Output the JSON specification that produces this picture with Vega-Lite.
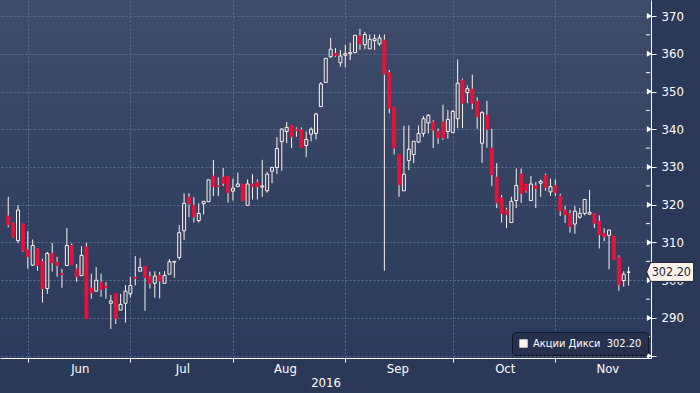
{
"$schema": "https://vega.github.io/schema/vega-lite/v6.json",
"width": 651, "height": 358,
"autosize": {"type": "none"},
"padding": {"left": 0, "top": 0, "right": 49, "bottom": 35},
"background": "#2b3959",
"config": {
 "view": {"stroke": null, "fill": {"gradient": "linear", "x1": 0, "y1": 0, "x2": 0, "y2": 1, "stops": [{"offset": 0, "color": "#3e4b69"}, {"offset": 1, "color": "#2b3a5c"}]}},
 "font": "Liberation Sans Narrow, DejaVu Sans Condensed, sans-serif",
 "axisX": {"labelOffset": 52, "labelFlush": false, "labelOverlap": false, "labelAlign": "center",
   "grid": true, "gridColor": "#56708f", "gridDash": [2, 2], "gridWidth": 1,
   "domainColor": "#ffffff", "tickColor": "#ffffff", "tickSize": 4,
   "labelColor": "#ffffff", "labelFontSize": 13, "labelPadding": 0,
   "titleColor": "#ffffff", "titleFontSize": 13, "titleFontWeight": "normal", "titlePadding": 1},
 "axisY": {"labelOverlap": false, "grid": true, "gridColor": "#56708f", "gridDash": [2, 2],
   "domainColor": "#ffffff", "tickColor": "#ffffff", "tickSize": 5, "labelPadding": 5,
   "labelColor": "#ffffff", "labelFontSize": 13, "labelFlush": false, "labelBaseline": "middle"},
 "legend": {"orient": "bottom-right", "offset": 3, "fillColor": "#25314d", "strokeColor": "#10172a", "cornerRadius": 4, "padding": 6, "symbolType": "square", "symbolSize": 70, "symbolStrokeWidth": 0, "labelColor": "#ffffff", "labelFontSize": 11, "labelFont": "Liberation Sans Narrow, DejaVu Sans Condensed, sans-serif"}
},
"datasets": {
 "ohlc": [
{"i":1,"o":317.0,"h":322.1,"l":314.0,"c":314.7},
{"i":2,"o":315.1,"h":315.3,"l":311.3,"c":311.5},
{"i":3,"o":310.5,"h":319.9,"l":309.8,"c":318.6},
{"i":4,"o":314.9,"h":315.0,"l":307.5,"c":307.8},
{"i":5,"o":308.0,"h":313.0,"l":303.1,"c":306.2},
{"i":6,"o":304.0,"h":310.8,"l":303.8,"c":309.2},
{"i":7,"o":308.3,"h":308.5,"l":302.5,"c":303.9},
{"i":8,"o":305.0,"h":305.7,"l":294.1,"c":297.8},
{"i":9,"o":297.8,"h":307.5,"l":296.4,"c":307.1},
{"i":10,"o":307.1,"h":309.9,"l":302.3,"c":304.7},
{"i":11,"o":304.8,"h":306.2,"l":300.9,"c":303.9},
{"i":12,"o":301.8,"h":303.0,"l":298.0,"c":301.5},
{"i":13,"o":303.9,"h":313.8,"l":303.8,"c":309.2},
{"i":14,"o":309.2,"h":309.8,"l":304.0,"c":304.1},
{"i":15,"o":303.0,"h":304.3,"l":299.6,"c":300.9},
{"i":16,"o":301.2,"h":309.0,"l":301.2,"c":306.6},
{"i":17,"o":308.8,"h":309.9,"l":289.8,"c":289.8},
{"i":18,"o":297.9,"h":301.7,"l":295.1,"c":296.7},
{"i":19,"o":297.1,"h":303.5,"l":297.0,"c":300.0},
{"i":20,"o":299.5,"h":301.7,"l":295.6,"c":297.6},
{"i":21,"o":298.4,"h":299.5,"l":295.1,"c":298.1},
{"i":22,"o":293.9,"h":296.1,"l":287.1,"c":294.5},
{"i":23,"o":296.5,"h":296.5,"l":288.4,"c":289.9},
{"i":24,"o":292.1,"h":296.4,"l":292.1,"c":293.6},
{"i":25,"o":293.9,"h":298.7,"l":288.8,"c":297.1},
{"i":26,"o":296.4,"h":300.9,"l":295.5,"c":298.6},
{"i":27,"o":300.8,"h":306.4,"l":298.6,"c":300.5},
{"i":28,"o":302.4,"h":305.9,"l":302.4,"c":303.4},
{"i":29,"o":303.7,"h":303.7,"l":291.9,"c":300.7},
{"i":30,"o":300.9,"h":302.3,"l":297.8,"c":299.2},
{"i":31,"o":299.2,"h":302.4,"l":295.4,"c":301.1},
{"i":32,"o":301.3,"h":302.2,"l":295.2,"c":299.8},
{"i":33,"o":299.2,"h":302.4,"l":299.2,"c":301.3},
{"i":34,"o":301.6,"h":305.6,"l":301.6,"c":304.9},
{"i":35,"o":304.8,"h":305.0,"l":300.7,"c":305.0},
{"i":36,"o":306.0,"h":314.6,"l":305.4,"c":312.6},
{"i":37,"o":313.1,"h":323.0,"l":310.7,"c":320.4},
{"i":38,"o":322.0,"h":323.0,"l":316.7,"c":320.2},
{"i":39,"o":319.85,"h":322.0,"l":315.3,"c":316.8},
{"i":40,"o":315.8,"h":320.4,"l":315.3,"c":317.7},
{"i":41,"o":320.3,"h":320.9,"l":317.4,"c":320.9},
{"i":42,"o":320.8,"h":326.6,"l":320.8,"c":326.6},
{"i":43,"o":327.6,"h":331.9,"l":322.3,"c":324.8},
{"i":44,"o":325.0,"h":327.3,"l":322.3,"c":324.8},
{"i":45,"o":327.3,"h":329.7,"l":325.0,"c":325.7},
{"i":46,"o":327.6,"h":327.6,"l":320.6,"c":323.2},
{"i":47,"o":323.6,"h":326.9,"l":321.1,"c":324.4},
{"i":48,"o":324.8,"h":328.5,"l":324.8,"c":325.5},
{"i":49,"o":325.5,"h":325.5,"l":321.1,"c":321.1},
{"i":50,"o":319.85,"h":326.7,"l":319.85,"c":325.5},
{"i":51,"o":325.5,"h":328.1,"l":321.4,"c":324.8},
{"i":52,"o":326.0,"h":326.7,"l":321.4,"c":324.8},
{"i":53,"o":324.7,"h":331.9,"l":322.1,"c":325.0},
{"i":54,"o":323.7,"h":328.7,"l":323.2,"c":328.1},
{"i":55,"o":328.9,"h":329.9,"l":325.7,"c":329.9},
{"i":56,"o":329.9,"h":337.9,"l":328.1,"c":334.9},
{"i":57,"o":336.7,"h":340.3,"l":329.0,"c":340.0},
{"i":58,"o":339.4,"h":341.9,"l":336.3,"c":340.5},
{"i":59,"o":341.0,"h":341.0,"l":335.0,"c":338.0},
{"i":60,"o":340.0,"h":340.5,"l":338.0,"c":339.6},
{"i":61,"o":339.8,"h":340.5,"l":335.2,"c":335.2},
{"i":62,"o":335.7,"h":339.4,"l":332.6,"c":337.3},
{"i":63,"o":338.7,"h":340.5,"l":336.8,"c":340.0},
{"i":64,"o":338.9,"h":344.4,"l":337.3,"c":344.0},
{"i":65,"o":346.0,"h":352.5,"l":346.0,"c":352.0},
{"i":66,"o":352.4,"h":358.8,"l":352.4,"c":358.8},
{"i":67,"o":359.2,"h":364.2,"l":358.9,"c":361.2},
{"i":68,"o":360.1,"h":361.5,"l":359.2,"c":359.6},
{"i":69,"o":357.6,"h":361.0,"l":356.6,"c":359.4},
{"i":70,"o":359.6,"h":362.4,"l":356.4,"c":360.0},
{"i":71,"o":360.0,"h":362.9,"l":358.3,"c":360.3},
{"i":72,"o":360.3,"h":364.9,"l":360.3,"c":364.9},
{"i":73,"o":364.7,"h":366.6,"l":361.0,"c":362.6},
{"i":74,"o":362.4,"h":365.8,"l":361.2,"c":365.1},
{"i":75,"o":361.3,"h":365.1,"l":361.3,"c":363.8},
{"i":76,"o":363.5,"h":365.1,"l":361.0,"c":364.0},
{"i":77,"o":362.6,"h":365.1,"l":362.1,"c":364.2},
{"i":78,"o":363.6,"h":365.1,"l":302.5,"c":354.6},
{"i":79,"o":355.0,"h":355.7,"l":344.2,"c":345.6},
{"i":80,"o":345.8,"h":345.8,"l":333.3,"c":335.0},
{"i":81,"o":333.3,"h":333.4,"l":322.1,"c":325.3},
{"i":82,"o":323.7,"h":340.9,"l":323.7,"c":328.1},
{"i":83,"o":331.7,"h":341.0,"l":329.2,"c":334.7},
{"i":84,"o":333.3,"h":336.8,"l":331.0,"c":336.8},
{"i":85,"o":336.6,"h":341.0,"l":336.4,"c":338.9},
{"i":86,"o":338.9,"h":343.5,"l":338.0,"c":342.8},
{"i":87,"o":341.7,"h":344.0,"l":338.9,"c":343.7},
{"i":88,"o":341.9,"h":342.4,"l":335.0,"c":339.8},
{"i":89,"o":339.4,"h":340.2,"l":336.1,"c":337.7},
{"i":90,"o":341.9,"h":346.5,"l":337.2,"c":337.7},
{"i":91,"o":339.4,"h":345.1,"l":337.5,"c":342.6},
{"i":92,"o":339.1,"h":345.1,"l":339.1,"c":344.7},
{"i":93,"o":342.8,"h":358.5,"l":340.3,"c":352.2},
{"i":94,"o":353.0,"h":353.4,"l":340.3,"c":346.9},
{"i":95,"o":349.7,"h":351.6,"l":346.9,"c":350.75},
{"i":96,"o":350.6,"h":354.5,"l":345.3,"c":346.9},
{"i":97,"o":347.4,"h":348.5,"l":340.1,"c":343.3},
{"i":98,"o":336.3,"h":344.8,"l":331.1,"c":344.4},
{"i":99,"o":343.7,"h":347.5,"l":335.1,"c":340.0},
{"i":100,"o":335.0,"h":340.1,"l":325.0,"c":328.0},
{"i":101,"o":327.3,"h":331.0,"l":319.1,"c":320.5},
{"i":102,"o":321.8,"h":322.6,"l":315.3,"c":317.7},
{"i":103,"o":318.6,"h":319.2,"l":313.8,"c":317.4},
{"i":104,"o":315.3,"h":322.1,"l":315.3,"c":320.9},
{"i":105,"o":321.1,"h":329.6,"l":319.1,"c":325.1},
{"i":106,"o":328.1,"h":329.6,"l":320.5,"c":323.0},
{"i":107,"o":325.5,"h":325.5,"l":323.2,"c":323.7},
{"i":108,"o":321.1,"h":327.6,"l":321.1,"c":325.5},
{"i":109,"o":325.0,"h":326.0,"l":319.1,"c":324.3},
{"i":110,"o":325.7,"h":326.7,"l":322.1,"c":326.2},
{"i":111,"o":327.8,"h":328.3,"l":323.7,"c":324.6},
{"i":112,"o":323.4,"h":326.9,"l":322.3,"c":324.8},
{"i":113,"o":325.0,"h":326.7,"l":322.3,"c":323.2},
{"i":114,"o":322.3,"h":322.9,"l":317.0,"c":318.4},
{"i":115,"o":318.6,"h":319.7,"l":315.2,"c":317.4},
{"i":116,"o":317.6,"h":318.6,"l":312.6,"c":314.2},
{"i":117,"o":314.9,"h":319.7,"l":312.3,"c":318.3},
{"i":118,"o":316.7,"h":319.1,"l":316.3,"c":317.7},
{"i":119,"o":317.7,"h":321.4,"l":317.2,"c":321.4},
{"i":120,"o":317.5,"h":323.9,"l":317.5,"c":318.0},
{"i":121,"o":317.7,"h":317.7,"l":313.8,"c":315.1},
{"i":122,"o":315.6,"h":317.2,"l":308.4,"c":312.1},
{"i":123,"o":312.4,"h":313.8,"l":310.3,"c":311.5},
{"i":124,"o":311.9,"h":313.3,"l":302.9,"c":313.3},
{"i":125,"o":311.7,"h":311.7,"l":305.5,"c":305.5},
{"i":126,"o":306.1,"h":306.6,"l":297.2,"c":298.8},
{"i":127,"o":299.9,"h":302.4,"l":298.3,"c":301.6},
{"i":128,"o":302.1,"h":303.6,"l":298.6,"c":302.2}
 ],
 "minor": [{"v":285},{"v":295},{"v":305},{"v":315},{"v":325},{"v":335},{"v":345},{"v":355},{"v":365}],
 "major": [{"v":280},{"v":290},{"v":300},{"v":310},{"v":320},{"v":330},{"v":340},{"v":350},{"v":360},{"v":370}],
 "last": [{"name":"Акции Дикси\u00a0\u00a0302.20","price":302.2,"label":"302.20"}]
},
"layer": [
 {
  "data": {"name": "ohlc"},
  "mark": {"type": "rule", "color": "#fdf3ec", "strokeWidth": 1},
  "encoding": {
   "x": {"field": "i", "type": "quantitative",
     "scale": {"domain": [0.335, 131.56], "nice": false, "zero": false},
     "axis": {"values": [5, 26, 47, 70, 92, 113], "title": "2016",
       "labelExpr": "datum.value==5?'Jun':datum.value==26?'Jul':datum.value==47?'Aug':datum.value==70?'Sep':datum.value==92?'Oct':'Nov'"}},
   "y": {"field": "h", "type": "quantitative",
     "scale": {"domain": [279.4, 374.24], "nice": false, "zero": false},
     "axis": {"orient": "right", "values": [280, 290, 300, 310, 320, 330, 340, 350, 360, 370], "title": null,
       "labelExpr": "datum.value==280?'':datum.label"}},
   "y2": {"field": "c"}
  }
 },
 {
  "data": {"name": "ohlc"},
  "mark": {"type": "rule", "color": "#fdf3ec", "strokeWidth": 1},
  "encoding": {
   "x": {"field": "i", "type": "quantitative",
     "axis": {"values": [5, 26, 47, 70, 92, 113], "title": "2016",
       "labelExpr": "datum.value==5?'Jun':datum.value==26?'Jul':datum.value==47?'Aug':datum.value==70?'Sep':datum.value==92?'Oct':'Nov'"}},
   "y": {"field": "l", "type": "quantitative",
     "axis": {"orient": "right", "values": [280, 290, 300, 310, 320, 330, 340, 350, 360, 370], "title": null,
       "labelExpr": "datum.value==280?'':datum.label"}},
   "y2": {"field": "o"}
  }
 },
 {
  "data": {"name": "ohlc"},
  "mark": {"type": "bar", "strokeWidth": 1, "size": 3},
  "encoding": {
   "x": {"field": "i", "type": "quantitative",
     "axis": {"values": [5, 26, 47, 70, 92, 113], "title": "2016",
       "labelExpr": "datum.value==5?'Jun':datum.value==26?'Jul':datum.value==47?'Aug':datum.value==70?'Sep':datum.value==92?'Oct':'Nov'"}},
   "y": {"field": "o", "type": "quantitative",
     "axis": {"orient": "right", "values": [280, 290, 300, 310, 320, 330, 340, 350, 360, 370], "title": null,
       "labelExpr": "datum.value==280?'':datum.label"}},
   "y2": {"field": "c"},
   "fill": {"condition": {"test": "datum.c >= datum.o", "value": "transparent"}, "value": "#e0143c"},
   "stroke": {"condition": {"test": "datum.c >= datum.o", "value": "#fdf3ec"}, "value": "#e0143c"}
  }
 },
 {
  "data": {"name": "minor"},
  "mark": {"type": "rule", "color": "#ffffff", "strokeWidth": 1},
  "encoding": {
   "x": {"datum": 131.56, "type": "quantitative",
     "axis": {"values": [5, 26, 47, 70, 92, 113], "title": "2016",
       "labelExpr": "datum.value==5?'Jun':datum.value==26?'Jul':datum.value==47?'Aug':datum.value==70?'Sep':datum.value==92?'Oct':'Nov'"}},
   "x2": {"datum": 132.37},
   "y": {"field": "v", "type": "quantitative",
     "axis": {"orient": "right", "values": [280, 290, 300, 310, 320, 330, 340, 350, 360, 370], "title": null,
       "labelExpr": "datum.value==280?'':datum.label"}}
  }
 },
 {
  "data": {"name": "major"},
  "mark": {"type": "point", "shape": "triangle-right", "filled": true, "color": "#ffffff", "size": 36, "opacity": 1},
  "encoding": {
   "x": {"datum": 132.27, "type": "quantitative",
     "axis": {"values": [5, 26, 47, 70, 92, 113], "title": "2016",
       "labelExpr": "datum.value==5?'Jun':datum.value==26?'Jul':datum.value==47?'Aug':datum.value==70?'Sep':datum.value==92?'Oct':'Nov'"}},
   "y": {"field": "v", "type": "quantitative",
     "axis": {"orient": "right", "values": [280, 290, 300, 310, 320, 330, 340, 350, 360, 370], "title": null,
       "labelExpr": "datum.value==280?'':datum.label"}}
  }
 },
 {
  "data": {"name": "last"},
  "mark": {"type": "point", "shape": "M-1,0L-0.83,-0.404L1,-0.404L1,0.404L-0.83,0.404Z", "filled": true, "size": 2209, "stroke": "#1b2233", "strokeWidth": 1, "opacity": 1},
  "encoding": {
   "x": {"datum": 136.5, "type": "quantitative",
     "axis": {"values": [5, 26, 47, 70, 92, 113], "title": "2016",
       "labelExpr": "datum.value==5?'Jun':datum.value==26?'Jul':datum.value==47?'Aug':datum.value==70?'Sep':datum.value==92?'Oct':'Nov'"}},
   "y": {"field": "price", "type": "quantitative",
     "axis": {"orient": "right", "values": [280, 290, 300, 310, 320, 330, 340, 350, 360, 370], "title": null,
       "labelExpr": "datum.value==280?'':datum.label"}},
   "color": {"field": "name", "type": "nominal", "scale": {"range": ["#fdf3ec"]}, "legend": {"title": null, "symbolType": "square"}}
  }
 },
 {
  "data": {"name": "last"},
  "mark": {"type": "text", "color": "#1b2233", "fontSize": 12.5, "align": "center", "baseline": "middle"},
  "encoding": {
   "x": {"datum": 136.75, "type": "quantitative",
     "axis": {"values": [5, 26, 47, 70, 92, 113], "title": "2016",
       "labelExpr": "datum.value==5?'Jun':datum.value==26?'Jul':datum.value==47?'Aug':datum.value==70?'Sep':datum.value==92?'Oct':'Nov'"}},
   "y": {"field": "price", "type": "quantitative",
     "axis": {"orient": "right", "values": [280, 290, 300, 310, 320, 330, 340, 350, 360, 370], "title": null,
       "labelExpr": "datum.value==280?'':datum.label"}},
   "text": {"field": "label"}
  }
 }
]
}
